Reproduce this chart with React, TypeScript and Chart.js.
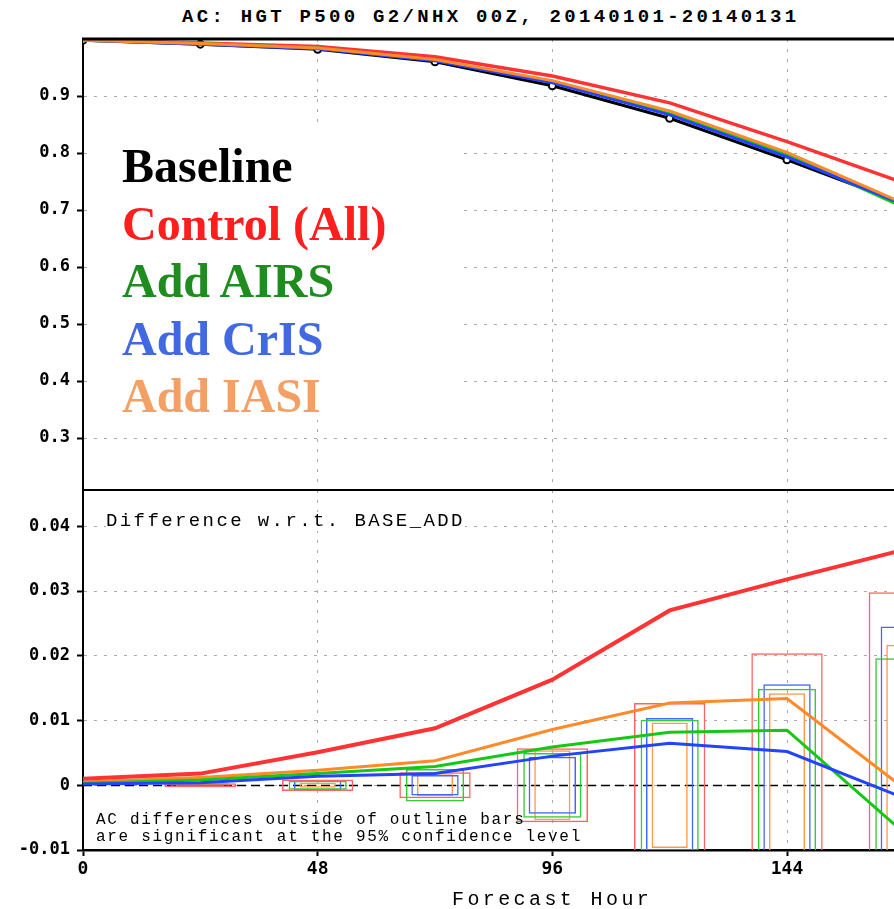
import { useEffect, useRef } from "react";
import { Chart, registerables } from "chart.js";

Chart.register(...registerables);

// Forecast hours of the verification points
const hours = [0, 24, 48, 72, 96, 120, 144, 168];
// Forecast hours that carry a significance box
const sigHours = [24, 48, 72, 96, 120, 144, 168];

const seriesNames = ["Baseline", "Control (All)", "Add AIRS", "Add CrIS", "Add IASI"];

// Anomaly correlation, 500 hPa height, NH extratropics
const baselineAC = [0.998, 0.991, 0.982, 0.96, 0.918, 0.861, 0.788, 0.711];
const controlAC = [0.999, 0.993, 0.987, 0.969, 0.935, 0.888, 0.82, 0.747];
const airsAC = [0.998, 0.992, 0.984, 0.963, 0.924, 0.869, 0.797, 0.704];
const crisAC = [0.998, 0.991, 0.983, 0.962, 0.923, 0.867, 0.793, 0.709];
const iasiAC = [0.998, 0.992, 0.984, 0.964, 0.927, 0.874, 0.801, 0.711];

// Differences with respect to the baseline run
const controlDiff = [0.001, 0.0018, 0.0051, 0.0088, 0.0163, 0.027, 0.0318, 0.0364];
const airsDiff = [0.0003, 0.0008, 0.0018, 0.0029, 0.0059, 0.0082, 0.0085, -0.0074];
const crisDiff = [0.0002, 0.0004, 0.0014, 0.0018, 0.0045, 0.0065, 0.0052, -0.002];
const iasiDiff = [0.0005, 0.0012, 0.0023, 0.0038, 0.0086, 0.0127, 0.0134, -0.0005];

// 95% significance bounds (boxes span -bound .. +bound)
const controlSig = [0.0003, 0.0009, 0.002, 0.0057, 0.0127, 0.0204, 0.0298];
const airsSig = [0.0003, 0.0007, 0.0025, 0.005, 0.0101, 0.0149, 0.0196];
const crisSig = [0.0002, 0.0008, 0.0016, 0.0044, 0.0104, 0.0156, 0.0245];
const iasiSig = [0.00015, 0.0004, 0.0017, 0.0054, 0.0097, 0.0142, 0.0217];

// Axis ticks
const hourTicks = [0, 48, 96, 144];
const hourTickLabels = ["0", "48", "96", "144"];
const acTicks = [0.3, 0.4, 0.5, 0.6, 0.7, 0.8, 0.9];
const acTickLabels = ["0.3", "0.4", "0.5", "0.6", "0.7", "0.8", "0.9"];
const diffTicks = [-0.01, 0, 0.01, 0.02, 0.03, 0.04];
const diffTickLabels = ["-0.01", "0", "0.01", "0.02", "0.03", "0.04"];

// Styling
const LINE = { base: "#000000", control: "#ff3333", airs: "#14c814", cris: "#2244ff", iasi: "#ff8a2a" };
const BOX = { control: "#ff6464", airs: "#33cc33", cris: "#4466ff", iasi: "#ff9a48" };
const LEGEND_COLORS = ["#000000", "#ff1e1e", "#1e8c1e", "#4169e1", "#f4a064"];

const PX_PER_HOUR = 704 / 144;
const PLOT_LEFT = 83;
const X_MAX = 192;
const CANVAS_W = 1030;
const PAD_RIGHT = CANVAS_W - (PLOT_LEFT + X_MAX * PX_PER_HOUR);

// Panel geometry (page pixels)
const TOP_CANVAS_H = 515;
const PANEL_SPLIT = 490;
const BOTTOM_CANVAS_TOP = 465;
const BOTTOM_CANVAS_H = 909 - BOTTOM_CANVAS_TOP;
const BOTTOM_PLOT_BOTTOM = 850;

const TICK_FONT = { family: "'DejaVu Sans Mono', monospace", size: 17, weight: "bold" as const };
const GRID_COLOR = "#a9a9a9";
const GRID_DASH = [3, 7];

const xy = (xs: number[], ys: number[]) => xs.map((x, i) => ({ x, y: ys[i] }));
const box = (bounds: number[]) => sigHours.map((h, i) => ({ x: h, y: [-bounds[i], bounds[i]] }));

const framePlugin = {
  id: "frame",
  afterDraw(chart: any, _args: any, opts: any) {
    if (!opts || !opts.width) return;
    const { ctx, chartArea } = chart;
    ctx.save();
    ctx.fillStyle = "#000";
    ctx.fillRect(chartArea.left - 1, chartArea.top - opts.width / 2, chartArea.right - chartArea.left + 2, opts.width);
    ctx.restore();
  },
};

const zeroLinePlugin = {
  id: "zeroLine",
  beforeDatasetsDraw(chart: any, _args: any, opts: any) {
    if (!opts || !opts.enabled) return;
    const { ctx, chartArea, scales } = chart;
    const y = Math.round(scales.y.getPixelForValue(0)) + 0.5;
    ctx.save();
    ctx.strokeStyle = "#000";
    ctx.lineWidth = 1.5;
    ctx.setLineDash([9, 5]);
    ctx.beginPath();
    ctx.moveTo(chartArea.left, y);
    ctx.lineTo(chartArea.right, y);
    ctx.stroke();
    ctx.restore();
  },
};

function hourScale(showLabels: boolean, height: number, borderWidth: number) {
  return {
    type: "linear" as const,
    min: 0,
    max: X_MAX,
    offset: false,
    afterBuildTicks: (s: any) => {
      s.ticks = hourTicks.map((v) => ({ value: v }));
    },
    afterFit: (s: any) => {
      s.height = height;
    },
    ticks: {
      display: showLabels,
      autoSkip: false,
      maxRotation: 0,
      padding: 3,
      color: "#000",
      font: { ...TICK_FONT, size: 18 },
      callback: (_v: any, i: number) => hourTickLabels[i],
    },
    grid: {
      offset: false,
      color: GRID_COLOR,
      lineWidth: 1,
      drawTicks: showLabels,
      tickLength: 6,
      tickColor: "#000",
      tickWidth: 2,
    },
    border: { display: true, color: "#000", width: borderWidth, dash: GRID_DASH },
  };
}

function valueScale(min: number, max: number, ticks: number[], labels: string[]) {
  return {
    type: "linear" as const,
    min,
    max,
    afterBuildTicks: (s: any) => {
      s.ticks = ticks.map((v) => ({ value: v }));
    },
    afterFit: (s: any) => {
      s.width = PLOT_LEFT;
    },
    ticks: {
      autoSkip: false,
      padding: 7,
      color: "#000",
      font: TICK_FONT,
      callback: (_v: any, i: number) => labels[i],
    },
    grid: {
      color: GRID_COLOR,
      lineWidth: 1,
      drawTicks: true,
      tickLength: 6,
      tickColor: "#000",
      tickWidth: 2,
    },
    border: { display: true, color: "#000", width: 2, dash: GRID_DASH },
  };
}

export default function App() {
  const topRef = useRef<HTMLCanvasElement>(null);
  const bottomRef = useRef<HTMLCanvasElement>(null);

  useEffect(() => {
    const seriesLine = (label: string, values: number[], color: string, order: number, width = 3) => ({
      type: "line" as const,
      label,
      data: xy(hours, values),
      borderColor: color,
      backgroundColor: color,
      borderWidth: width,
      pointRadius: 0,
      tension: 0,
      order,
    });

    const topChart = new Chart(topRef.current!, {
      type: "line",
      data: {
        datasets: [
          {
            ...seriesLine(seriesNames[0], baselineAC, LINE.base, 5),
            pointRadius: 3.5,
            pointBackgroundColor: "#ffffff",
            pointBorderColor: "#000000",
            pointBorderWidth: 2,
          },
          seriesLine(seriesNames[1], controlAC, LINE.control, 4, 3.5),
          seriesLine(seriesNames[2], airsAC, LINE.airs, 3),
          seriesLine(seriesNames[3], crisAC, LINE.cris, 2),
          seriesLine(seriesNames[4], iasiAC, LINE.iasi, 1),
        ] as any,
      },
      options: {
        responsive: false,
        animation: false,
        layout: { padding: { top: 39, left: 0, right: PAD_RIGHT, bottom: 0 } },
        scales: {
          x: hourScale(false, TOP_CANVAS_H - PANEL_SPLIT, 2),
          y: valueScale(0.2088, 1.0, acTicks, acTickLabels),
        } as any,
        plugins: {
          legend: { display: false },
          tooltip: { enabled: false },
          frame: { width: 3 },
        } as any,
      },
      plugins: [framePlugin],
    });

    const sigBox = (label: string, bounds: number[], color: string, widthHours: number, order: number) => ({
      type: "bar" as const,
      label,
      data: box(bounds),
      backgroundColor: "rgba(0,0,0,0)",
      borderColor: color,
      borderWidth: 1.5,
      borderSkipped: false,
      inflateAmount: 0,
      grouped: false,
      barThickness: widthHours * PX_PER_HOUR,
      clip: 0,
      order,
    });

    const bottomChart = new Chart(bottomRef.current!, {
      type: "line",
      data: {
        datasets: [
          seriesLine(seriesNames[1], controlDiff, LINE.control, 1, 4),
          seriesLine(seriesNames[3], crisDiff, LINE.cris, 2),
          seriesLine(seriesNames[2], airsDiff, LINE.airs, 3),
          seriesLine(seriesNames[4], iasiDiff, LINE.iasi, 4),
          sigBox(seriesNames[1], controlSig, BOX.control, 14.6, 10),
          sigBox(seriesNames[2], airsSig, BOX.airs, 11.9, 11),
          sigBox(seriesNames[3], crisSig, BOX.cris, 9.7, 12),
          sigBox(seriesNames[4], iasiSig, BOX.iasi, 7.4, 13),
        ] as any,
      },
      options: {
        responsive: false,
        animation: false,
        layout: {
          padding: { top: PANEL_SPLIT - BOTTOM_CANVAS_TOP, left: 0, right: PAD_RIGHT, bottom: 0 },
        },
        scales: {
          x: hourScale(true, 909 - BOTTOM_PLOT_BOTTOM, 2.5),
          y: valueScale(-0.01, 0.0456, diffTicks, diffTickLabels),
        } as any,
        plugins: {
          legend: { display: false },
          tooltip: { enabled: false },
          frame: { width: 2 },
          zeroLine: { enabled: true },
        } as any,
      },
      plugins: [framePlugin, zeroLinePlugin],
    });

    return () => {
      topChart.destroy();
      bottomChart.destroy();
    };
  }, []);

  const mono = "'Liberation Mono', 'DejaVu Sans Mono', monospace";

  return (
    <div
      style={{
        position: "absolute",
        left: 0,
        top: 0,
        width: 894,
        height: 909,
        overflow: "hidden",
        background: "#ffffff",
      }}
    >
      <div
        style={{
          position: "absolute",
          left: 182,
          top: 8,
          fontFamily: mono,
          fontWeight: "bold",
          fontSize: 19,
          lineHeight: "19px",
          letterSpacing: "3.3px",
          whiteSpace: "nowrap",
          color: "#000",
        }}
      >
        AC: HGT P500 G2/NHX 00Z, 20140101-20140131
      </div>

      <canvas
        ref={topRef}
        width={CANVAS_W}
        height={TOP_CANVAS_H}
        style={{ position: "absolute", left: 0, top: 0 }}
      />
      <canvas
        ref={bottomRef}
        width={CANVAS_W}
        height={BOTTOM_CANVAS_H}
        style={{ position: "absolute", left: 0, top: BOTTOM_CANVAS_TOP }}
      />

      <div
        style={{
          position: "absolute",
          left: 90,
          top: 124,
          width: 370,
          height: 296,
          background: "#ffffff",
          boxSizing: "border-box",
          paddingLeft: 32,
          paddingTop: 13,
          fontFamily: "'Liberation Serif', 'Times New Roman', serif",
          fontWeight: "bold",
          fontSize: 48,
          lineHeight: "57.5px",
          whiteSpace: "nowrap",
        }}
      >
        {seriesNames.map((name, i) => (
          <div key={name} style={{ color: LEGEND_COLORS[i] }}>
            {name}
          </div>
        ))}
      </div>

      <div
        style={{
          position: "absolute",
          left: 106,
          top: 512,
          fontFamily: mono,
          fontSize: 19,
          lineHeight: "19px",
          letterSpacing: "2.4px",
          whiteSpace: "nowrap",
          background: "#ffffff",
          color: "#000",
        }}
      >
        Difference w.r.t. BASE_ADD
      </div>

      <div
        style={{
          position: "absolute",
          left: 96,
          top: 812,
          fontFamily: mono,
          fontSize: 16,
          lineHeight: "16.5px",
          letterSpacing: "1.7px",
          whiteSpace: "pre",
          color: "#000",
        }}
      >
        {"AC differences outside of outline bars\nare significant at the 95% confidence level"}
      </div>

      <div
        style={{
          position: "absolute",
          left: 452,
          top: 890,
          fontFamily: mono,
          fontSize: 20,
          lineHeight: "20px",
          letterSpacing: "3.4px",
          whiteSpace: "nowrap",
          color: "#000",
        }}
      >
        Forecast Hour
      </div>
    </div>
  );
}
